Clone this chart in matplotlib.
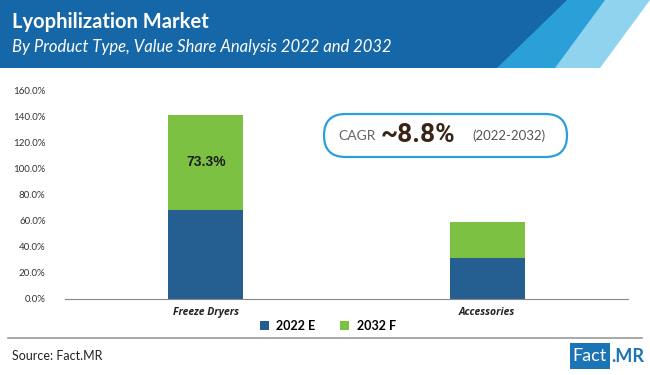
import numpy as np
import matplotlib.pyplot as plt
from matplotlib.patches import Rectangle, Polygon, FancyBboxPatch

# datos del grafico
categorias = ['Freeze Dryers', 'Accessories']
valores_2022 = [68.4, 31.8]
valores_2032 = [73.3, 27.2]
etiquetas_y = ['0.0%', '20.0%', '40.0%', '60.0%', '80.0%', '100.0%', '120.0%', '140.0%', '160.0%']
series = ['2022 E', '2032 F']

color_2022 = '#255e91'
color_2032 = '#7cc142'

plt.rcParams['font.family'] = ['Lato', 'DejaVu Sans']

fig = plt.figure(figsize=(6.5, 3.75), dpi=100)

# fondo en pixeles para cabecera y pie
bg = fig.add_axes([0, 0, 1, 1])
bg.set_xlim(0, 650)
bg.set_ylim(375, 0)
bg.axis('off')

# cabecera azul con franjas diagonales
bg.add_patch(Polygon([[0, 0], [650, 0], [650, 0], [600, 68], [0, 68]], closed=True, color='#8fd3ee', lw=0))
bg.add_patch(Polygon([[0, 0], [605, 0], [555, 68], [0, 68]], closed=True, color='#2b9fd8', lw=0))
bg.add_patch(Polygon([[0, 0], [567, 0], [497, 68], [0, 68]], closed=True, color='#1667a7', lw=0))
bg.text(12, 22, 'Lyophilization Market', color='white', fontsize=14.5, fontweight='bold', va='center')
bg.text(12, 47, 'By Product Type, Value Share Analysis 2022 and 2032', color='white', fontsize=12,
        style='italic', va='center')

# pie
bg.plot([8, 642], [338, 338], color='#9a9a9a', lw=1.2)
bg.text(12, 356, 'Source: Fact.MR', color='#222222', fontsize=9, va='center')
bg.add_patch(Rectangle((570, 343), 40, 26, color='#1a74b5', lw=0))
bg.text(590, 356, 'Fact', color='white', fontsize=13, va='center', ha='center')
bg.text(611, 356, '.MR', color='#1a74b5', fontsize=13, va='center', ha='left', fontweight='bold')

# grafico de barras apiladas
ax = fig.add_axes([65 / 650, (375 - 299) / 375, (628 - 65) / 650, (299 - 91) / 375])
x = np.arange(len(categorias))
ancho = 0.266
ax.bar(x, valores_2022, width=ancho, color=color_2022, label=series[0], zorder=2)
ax.bar(x, valores_2032, width=ancho, bottom=valores_2022, color=color_2032, label=series[1], zorder=2)

ax.text(x[0], valores_2022[0] + valores_2032[0] / 2, f'{valores_2032[0]:.1f}%', ha='center', va='center',
        fontsize=10, fontweight='bold', color='#1d1d1d', family=['Liberation Sans', 'DejaVu Sans'])

ax.set_xlim(-0.5, 1.5)
ax.set_ylim(0, 160)
ax.set_yticks(np.arange(0, 161, 20))
ax.set_yticklabels(etiquetas_y, fontsize=7, color='#333333')
ax.set_xticks(x)
ax.set_xticklabels(categorias, fontsize=7.5, style='italic', fontweight='bold', color='#222222',
                   family=['Open Sans', 'DejaVu Sans'])
ax.tick_params(axis='both', length=0, pad=6)
ax.tick_params(axis='y', pad=14)
for lado in ['top', 'right', 'left']:
    ax.spines[lado].set_visible(False)
ax.spines['bottom'].set_color('#888888')
ax.patch.set_alpha(0)

ax.legend(loc='upper center', bbox_to_anchor=(0.467, -0.045), ncol=2, frameon=False, handlelength=0.7,
          handleheight=0.7, columnspacing=2.0, handletextpad=0.6, prop={'weight': 'bold', 'size': 9})

# cuadro CAGR
bg.add_patch(FancyBboxPatch((324, 114), 243, 43, boxstyle='round,pad=0,rounding_size=21.5',
                            facecolor='white', edgecolor='#2b9fd8', lw=1.6))
bg.text(357, 136, 'CAGR', color='#666666', fontsize=10, va='center', ha='center')
bg.text(418, 135, '~8.8%', color='#3a2418', fontsize=19, fontweight='bold', va='center', ha='center',
        family=['Roboto', 'DejaVu Sans'])
bg.text(509, 136, '(2022-2032)', color='#555555', fontsize=9.5, va='center', ha='center')

fig.savefig('out.png', dpi=100)
